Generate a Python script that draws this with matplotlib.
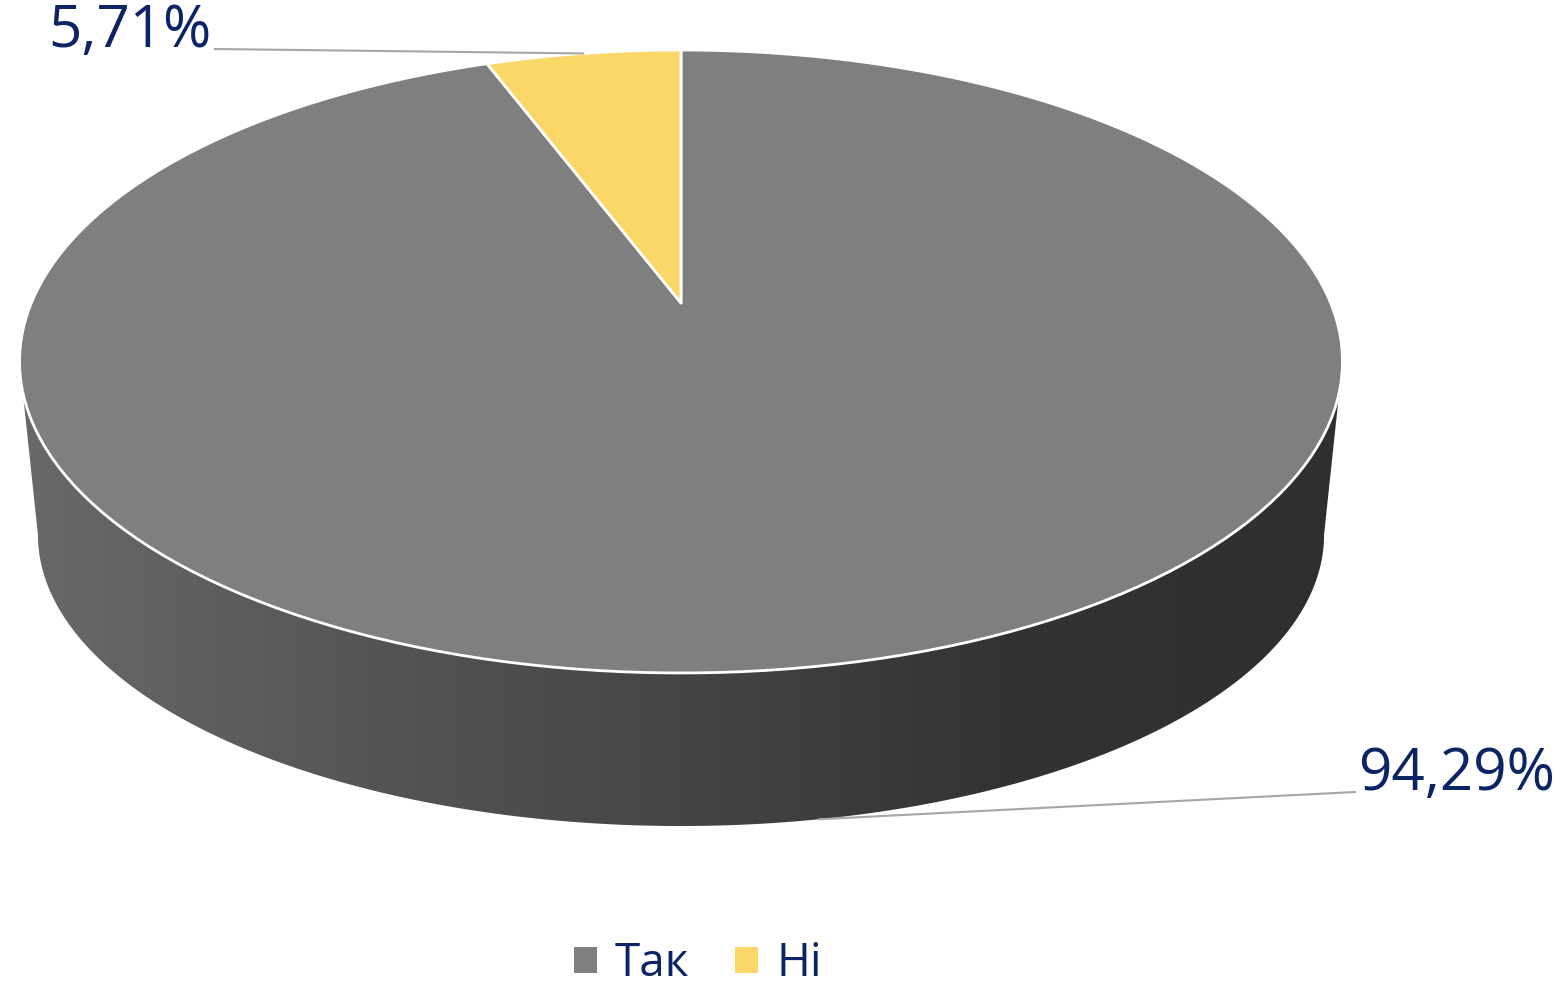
import numpy as np
import matplotlib.pyplot as plt
from matplotlib.patches import Polygon, Patch

categories = ['Так', 'Ні']
values = [94.29, 5.71]
colors = ['#7f7f7f', '#fad766']
text_color = '#0b2466'

plt.rcParams['font.family'] = ['Open Sans', 'DejaVu Sans']

fig = plt.figure(figsize=(15.61, 9.90), dpi=100)
ax = fig.add_axes([0, 0, 1, 1])
ax.set_xlim(0, 1561)
ax.set_ylim(990, 0)
ax.axis('off')

# perspective ellipses (top face / bottom face)
cx = 681
top = dict(cy=303, A=649.7, B=300.5, k=0.1878)
bot = dict(cy=480.3, A=631.6, B=280.8, k=0.1878)


def proj(theta, e):
    u = np.sin(theta)
    v = np.cos(theta)
    d = 1 + e['k'] * v
    return cx + e['A'] * u / d, e['cy'] - e['B'] * v / d


def arc(t0, t1, e, n=200):
    t = np.linspace(t0, t1, n)
    x, y = proj(t, e)
    return np.column_stack([x, y])


fracs = np.array(values) / sum(values)
bounds = np.concatenate([[0], np.cumsum(fracs)]) * 2 * np.pi

# side wall (front half only)
ts = np.arccos(-top['k'])
side = np.vstack([arc(ts, 2 * np.pi - ts, top), arc(2 * np.pi - ts, ts, bot)])
side_patch = Polygon(side, closed=True, facecolor='none', edgecolor='none')
ax.add_patch(side_patch)
gx = [0, 40, 420, 700, 1000, 1340, 1561]
gv = [0x6a, 0x68, 0x52, 0x44, 0x33, 0x2f, 0x2f]
xs = np.arange(1561)
shade = np.interp(xs, gx, gv) / 255.0
img = np.repeat(shade[None, :, None], 3, axis=2)
im = ax.imshow(img, extent=(0, 1561, 990, 0), aspect='auto', zorder=1)
im.set_clip_path(side_patch)

# top face wedges
for i, c in enumerate(colors):
    pts = np.vstack([[cx, top['cy']], arc(bounds[i], bounds[i + 1], top)])
    ax.add_patch(Polygon(pts, closed=True, facecolor=c, edgecolor='white',
                         linewidth=2, joinstyle='round', zorder=2))

# data labels with leader lines
mid = (bounds[:-1] + bounds[1:]) / 2
lbl = [f'{v:.2f}%'.replace('.', ',') for v in values]

# Так: anchor on bottom rim
px, py = proj(mid[0], bot)
ax.plot([px, 1355], [py, 792], color='#a6a6a6', lw=1.5, zorder=3)
ax.text(1358, 775, lbl[0], ha='left', va='center', fontsize=42, color=text_color)

# Ні: anchor on top rim
px, py = proj(mid[1], top)
ax.plot([px, 215], [py, 49], color='#a6a6a6', lw=1.5, zorder=3)
ax.text(212, 32, lbl[1], ha='right', va='center', fontsize=42, color=text_color)

handles = [Patch(facecolor=c, edgecolor='none', label=n) for n, c in zip(categories, colors)]
leg = ax.legend(handles=handles, ncol=2, frameon=False, loc='center',
                bbox_to_anchor=(0.447, 0.026), fontsize=33, handlelength=0.5,
                handleheight=0.5, handletextpad=0.4, columnspacing=1.0,
                borderpad=0.1)
for t in leg.get_texts():
    t.set_color(text_color)

fig.savefig('out.png', dpi=100)
